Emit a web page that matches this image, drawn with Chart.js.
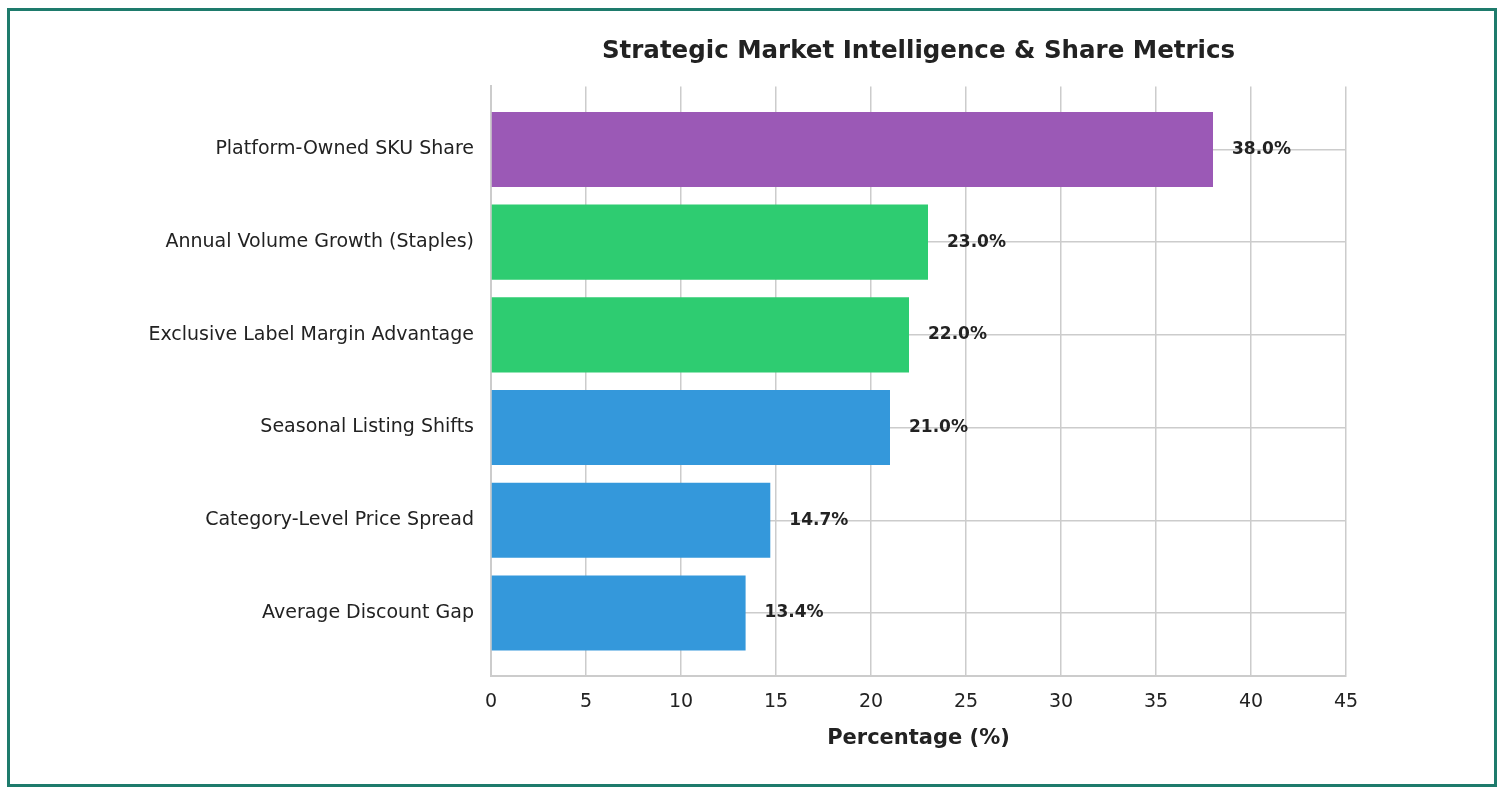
<!DOCTYPE html>
<html>
<head>
<meta charset="utf-8">
<script src="https://cdn.jsdelivr.net/npm/chart.js@4"></script>
<style>
html,body{margin:0;padding:0;background:#fff;width:1503px;height:793px;overflow:hidden;}
#wrap{position:absolute;left:0;top:0;width:1503px;height:793px;}
#frame{position:absolute;left:7px;top:8px;width:1484px;height:773px;border:3px solid #1e7b6c;pointer-events:none;}
</style>
</head>
<body>
<div id="wrap"><canvas id="c" width="1503" height="793"></canvas></div>
<div id="frame"></div>
<script>
const categories = [
  "Platform-Owned SKU Share",
  "Annual Volume Growth (Staples)",
  "Exclusive Label Margin Advantage",
  "Seasonal Listing Shifts",
  "Category-Level Price Spread",
  "Average Discount Gap"
];
const values = [38.0, 23.0, 22.0, 21.0, 14.7, 13.4];
const barColors = ["#9b59b6", "#2ecc71", "#2ecc71", "#3498db", "#3498db", "#3498db"];
const xTicks = [0, 5, 10, 15, 20, 25, 30, 35, 40, 45];
const chartTitle = "Strategic Market Intelligence & Share Metrics";
const xTitle = "Percentage (%)";

const FONT = "'DejaVu Sans', sans-serif";
const GRID = "#cccccc";

const valueLabels = {
  id: 'valueLabels',
  afterDatasetsDraw(chart) {
    const ctx = chart.ctx;
    const meta = chart.getDatasetMeta(0);
    ctx.save();
    ctx.font = "bold 17px " + FONT;
    ctx.fillStyle = "#222222";
    ctx.textAlign = "left";
    ctx.textBaseline = "middle";
    meta.data.forEach((bar, i) => {
      ctx.fillText(values[i].toFixed(1) + "%", bar.x + 19, bar.y);
    });
    ctx.restore();
  }
};

new Chart(document.getElementById('c'), {
  type: 'bar',
  data: {
    datasets: [{
      data: values.map((v, i) => ({x: v, y: i})),
      backgroundColor: barColors,
      borderWidth: 0,
      categoryPercentage: 1.0,
      barPercentage: 0.81
    }]
  },
  options: {
    indexAxis: 'y',
    responsive: false,
    animation: false,
    devicePixelRatio: 1,
    layout: {padding: {left: 0, right: 157, top: 0, bottom: 0}},
    plugins: {
      legend: {display: false},
      tooltip: {enabled: false},
      title: {
        display: true,
        text: chartTitle,
        fullSize: false,
        color: "#222222",
        font: {family: FONT, size: 24.5, weight: 'bold'},
        padding: {top: 37, bottom: 20}
      }
    },
    scales: {
      x: {
        type: 'linear',
        position: 'bottom',
        min: 0,
        max: 45,
        afterBuildTicks(scale) { scale.ticks = xTicks.map(v => ({value: v})); },
        afterFit(scale) { scale.height = 117; },
        grid: {color: GRID, lineWidth: 1.5, drawTicks: false},
        border: {display: true, color: GRID, width: 2},
        ticks: {color: "#222222", font: {family: FONT, size: 19}, padding: 15},
        title: {
          display: true,
          text: xTitle,
          color: "#222222",
          font: {family: FONT, size: 21, weight: 'bold'},
          padding: {top: 0, bottom: 42}
        }
      },
      y: {
        type: 'linear',
        reverse: true,
        offset: false,
        min: -0.68,
        max: 5.68,
        afterBuildTicks(scale) { scale.ticks = categories.map((c, i) => ({value: i})); },
        afterFit(scale) { scale.width = 491; },
        grid: {color: GRID, lineWidth: 1.5, drawTicks: false, offset: false},
        border: {display: true, color: GRID, width: 2},
        ticks: {
          color: "#222222",
          font: {family: FONT, size: 19},
          padding: 17,
          callback: (v) => categories[v]
        }
      }
    }
  },
  plugins: [valueLabels]
});
</script>
</body>
</html>
